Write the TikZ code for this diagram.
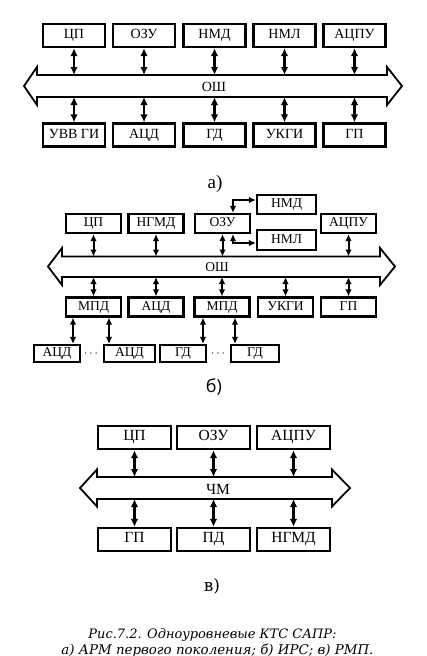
\documentclass[tikz,border=0pt]{standalone}
\usepackage{fontspec}
\setmainfont{Liberation Serif}
\newfontfamily\sansf{Open Sans}
\newfontfamily\dvs{DejaVu Serif}
\usetikzlibrary{arrows.meta,calc}
\begin{document}
\begin{tikzpicture}[x=1pt,y=-1pt,
  box/.style={draw,line width=2.2pt,inner sep=0pt,text height=0.66em,text depth=0pt},
  boxa/.style={box,minimum width=62pt,minimum height=23pt,font=\fontsize{14}{15}\selectfont},
  boxb/.style={box,minimum width=55pt,minimum height=19pt,font=\fontsize{13.5}{14}\selectfont},
  boxc/.style={box,minimum width=73pt,minimum height=23pt,font=\fontsize{15.5}{16}\selectfont},
  dbl/.style={line width=2.2pt,{Latex[length=8pt,width=7.5pt]}-{Latex[length=8pt,width=7.5pt]}},
  dblb/.style={line width=2pt,{Latex[length=7pt,width=6.5pt]}-{Latex[length=7pt,width=6.5pt]}},
  bus/.style={draw,line width=1.8pt,line join=miter},
  lbl/.style={inner sep=0pt},
]
\useasboundingbox (0,0) rectangle (426,656);

% ---------------- a) ----------------
\node[boxa] (a1) at (74,35.5) {ЦП};
\node[boxa] (a2) at (144,35.5) {ОЗУ};
\node[boxa] (a3) at (214.5,35.5) {НМД};
\node[boxa] (a4) at (284.5,35.5) {НМЛ};
\node[boxa] (a5) at (354.5,35.5) {АЦПУ};
\node[boxa] (a6) at (74,135) {УВВ ГИ};
\node[boxa] (a7) at (144,135) {АЦД};
\node[boxa] (a8) at (214.5,135) {ГД};
\node[boxa] (a9) at (284.5,135) {УКГИ};
\node[boxa] (a10) at (354.5,135) {ГП};
\draw[bus] (37,75) -- (387,75) -- (387,67) -- (402,86) -- (387,105) -- (387,97)
  -- (37,97) -- (37,105) -- (24,86) -- (37,67) -- cycle;
\node[lbl,font=\fontsize{14}{15}\selectfont] (oshA) at (214,86.5) {ОШ};
\coordinate (aBT) at (0,75);
\coordinate (aBB) at (0,97);
\foreach \n in {a1,a2,a3,a4,a5}{\draw[dbl] (\n.south) -- (\n.south |- aBT);}
\foreach \n in {a6,a7,a8,a9,a10}{\draw[dbl] (\n.north |- aBB) -- (\n.north);}
\node[lbl,font=\fontsize{19}{21}\selectfont] (la) at (215,183.5) {а)};

% ---------------- b) ----------------
\node[boxb] (b1) at (93.5,223.5) {ЦП};
\node[boxb] (b2) at (156,223.5) {НГМД};
\node[boxb] (b3) at (222.5,223.5) {ОЗУ};
\node[boxb] (b4) at (348.5,223.5) {АЦПУ};
\node[boxb,minimum width=59pt] (nmd) at (286.5,204.5) {НМД};
\node[boxb,minimum width=59pt,minimum height=19.5pt] (nml) at (286.5,240) {НМЛ};
\coordinate (kA) at (233,200);
\coordinate (kB) at (233,243);
\draw[dblb] (b3.north -| kA) -- (kA) -- (nmd.west |- kA);
\draw[dblb] (b3.south -| kB) -- (kB) -- (nml.west |- kB);
\draw[bus] (62,256.5) -- (380,256.5) -- (380,248) -- (395,266.5) -- (380,285) -- (380,277)
  -- (62,277) -- (62,285) -- (48,266.5) -- (62,248) -- cycle;
\node[lbl,font=\fontsize{13.5}{14}\selectfont] (oshB) at (217,267) {ОШ};
\node[boxb] (b5) at (93.5,307) {МПД};
\node[boxb] (b6) at (156,307) {АЦД};
\node[boxb] (b7) at (222,307) {МПД};
\node[boxb] (b8) at (285.5,307) {УКГИ};
\node[boxb] (b9) at (348.5,307) {ГП};
\coordinate (bBT) at (0,256.5);
\coordinate (bBB) at (0,277);
\foreach \n in {b1,b2,b3,b4}{\draw[dblb] (\n.south) -- (\n.south |- bBT);}
\foreach \n in {b5,b6,b7,b8,b9}{\draw[dblb] (\n.north |- bBB) -- (\n.north);}
\node[boxb,minimum width=46pt,minimum height=17pt] (c1) at (57,353.5) {АЦД};
\node[boxb,minimum width=51pt,minimum height=17pt] (c2) at (129.5,353.5) {АЦД};
\node[boxb,minimum width=46pt,minimum height=17pt] (c3) at (183,353.5) {ГД};
\node[boxb,minimum width=48pt,minimum height=17pt] (c4) at (255,353.5) {ГД};
\node[lbl,font=\fontsize{13}{14}\selectfont] (d1) at (91,354) {$\cdots$};
\node[lbl,font=\fontsize{13}{14}\selectfont] (d2) at (218,354) {$\cdots$};
\coordinate (e1) at (73,0);
\coordinate (e2) at (109,0);
\coordinate (e3) at (203,0);
\coordinate (e4) at (235,0);
\draw[dblb] (b5.south -| e1) -- (c1.north -| e1);
\draw[dblb] (b5.south -| e2) -- (c2.north -| e2);
\draw[dblb] (b7.south -| e3) -- (c3.north -| e3);
\draw[dblb] (b7.south -| e4) -- (c4.north -| e4);
\node[lbl,font=\sansf\fontsize{18}{20}\selectfont] (lb) at (214,387.5) {б)};

% ---------------- c) ----------------
\node[boxc] (g1) at (134.5,437.5) {ЦП};
\node[boxc] (g2) at (213.5,437.5) {ОЗУ};
\node[boxc] (g3) at (293.5,437.5) {АЦПУ};
\node[boxc] (g4) at (134.5,539.5) {ГП};
\node[boxc] (g5) at (213.5,539.5) {ПД};
\node[boxc] (g6) at (293.5,539.5) {НГМД};
\draw[bus] (97,477) -- (332,477) -- (332,469.5) -- (350,488) -- (332,506.5) -- (332,499)
  -- (97,499) -- (97,506.5) -- (80,488) -- (97,469.5) -- cycle;
\node[lbl,font=\fontsize{15.5}{16}\selectfont] (chm) at (218,489) {ЧМ};
\coordinate (gBT) at (0,477);
\coordinate (gBB) at (0,499);
\foreach \n in {g1,g2,g3}{\draw[dbl] (\n.south) -- (\n.south |- gBT);}
\foreach \n in {g4,g5,g6}{\draw[dbl] (\n.north |- gBB) -- (\n.north);}
\node[lbl,font=\dvs\fontsize{17}{19}\selectfont] (lc) at (212,586) {в)};

% ---------------- caption ----------------
\node[lbl,anchor=base] (cap1) at (212.5,638) {\resizebox{248pt}{!}{\dvs\itshape Рис.7.2. Одноуровневые КТС САПР:}};
\node[lbl,anchor=base] (cap2) at (217.5,654) {\resizebox{312pt}{!}{\dvs\itshape а) АРМ первого поколения; б) ИРС; в) РМП.}};
\end{tikzpicture}
\end{document}
